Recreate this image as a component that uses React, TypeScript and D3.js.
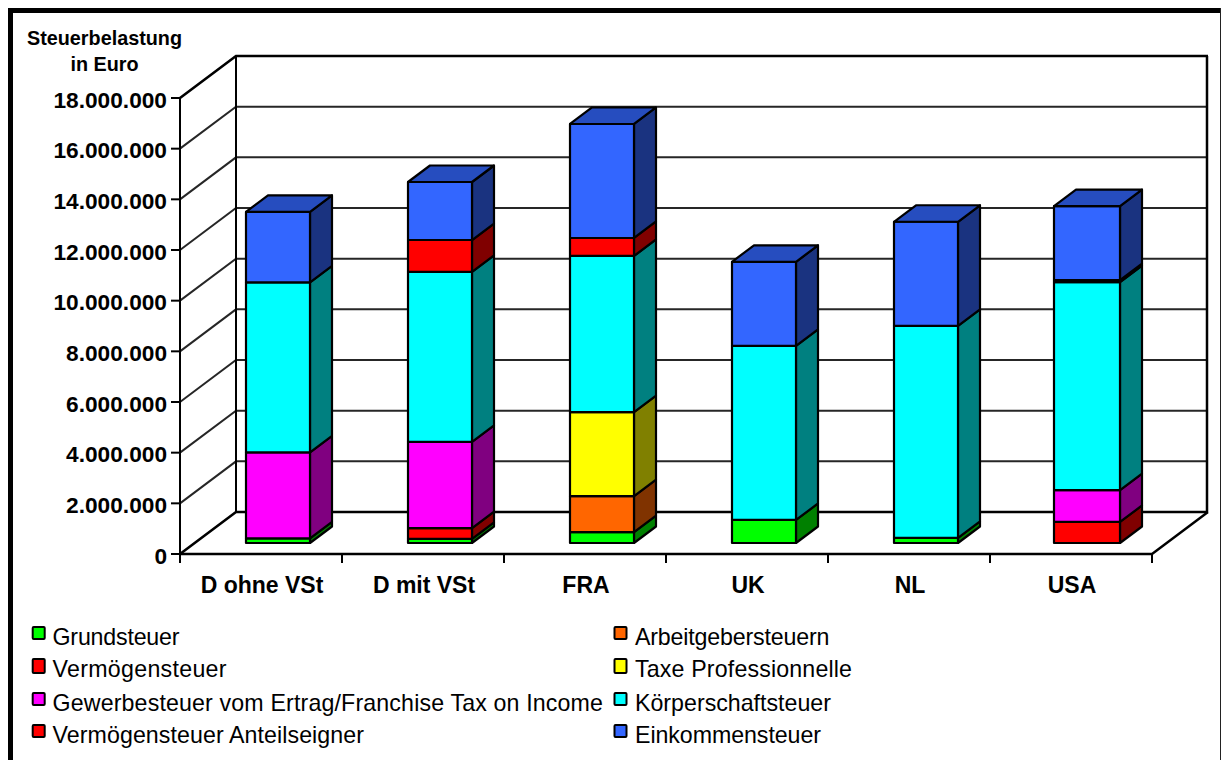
import React from "react";
import * as d3 from "d3";

const categories = ["D ohne VSt", "D mit VSt", "FRA", "UK", "NL", "USA"];
const yTicks = [0, 2, 4, 6, 8, 10, 12, 14, 16, 18].map((d) => d * 1e6);
const tickLabels = ["0", "2.000.000", "4.000.000", "6.000.000", "8.000.000", "10.000.000", "12.000.000", "14.000.000", "16.000.000", "18.000.000"];

const grundsteuer = [0.18, 0.16, 0.43, 0.91, 0.2, 0];
const arbeitgeber = [0, 0, 1.42, 0, 0, 0];
const vermoegen = [0, 0.43, 0, 0, 0, 0.83];
const taxePro = [0, 0, 3.32, 0, 0, 0];
const gewerbe = [3.4, 3.4, 0, 0, 0, 1.26];
const koerperschaft = [6.71, 6.71, 6.16, 6.87, 8.37, 8.21];
const anteilseigner = [0, 1.26, 0.71, 0, 0, 0.08];
const einkommen = [2.78, 2.29, 4.5, 3.32, 4.11, 2.92];

const seriesNames = ["Grundsteuer", "Arbeitgebersteuern", "Vermögensteuer", "Taxe Professionnelle", "Gewerbesteuer vom Ertrag/Franchise Tax on Income", "Körperschaftsteuer", "Vermögensteuer Anteilseigner", "Einkommensteuer"];
const seriesValues = [grundsteuer, arbeitgeber, vermoegen, taxePro, gewerbe, koerperschaft, anteilseigner, einkommen];
const seriesColors = ["#00ff00", "#ff6600", "#ff0000", "#ffff00", "#ff00ff", "#00ffff", "#ff0000", "#3366ff"];
const legendTextWidths = [127, 194.5, 174, 217, 550.5, 196, 311.5, 186];

const FONT = '"Liberation Sans", Arial, sans-serif';
const DX = 56, DY = -42;
const y = d3.scaleLinear().domain([0, 18e6]).range([554, 98]);
const x = d3.scaleBand<string>().domain(categories).range([180, 1152]);
const legendY = d3.scaleOrdinal<number, number>().domain([0, 1, 2, 3]).range([645, 677, 711, 743]);
const line = d3.line();
const poly = (p: [number, number][]) => line(p)! + "Z";
const dark = (c: string, k: number) => {
  const r = d3.rgb(c);
  return d3.rgb(r.r * k, r.g * k, r.b * k).formatHex();
};

export default function App() {
  const bandW = x.bandwidth();
  const frontDx = 15, frontDy = -11, barDx = 22, barDy = -16.5;
  const bars = categories.map((c, i) => {
    const last = i === categories.length - 1;
    const barW = last ? 66 : 64;
    const x0 = x(c)! + (bandW - 64) / 2 + frontDx + 2 - (last ? 2 : 0);
    let acc = 0;
    const segs = seriesValues.map((vals, s) => {
      const v = vals[i] * 1e6;
      const a = y(acc) + frontDy;
      acc += v;
      const b = y(acc) + frontDy;
      return { v, a, b, s };
    }).filter((d) => d.v > 0);
    return { c, x0, barW, segs };
  });
  return (
    <svg width={1221} height={760} style={{ position: "absolute", left: 0, top: 0, background: "#fff" }} fontFamily={FONT}>
      <rect x={8} y={8} width={5} height={752} fill="#000" />
      <rect x={8} y={8} width={1213} height={5} fill="#000" />
      <rect x={1220} y={8} width={1} height={752} fill="#222" />

      {/* walls and grid */}
      {yTicks.map((t, i) => (
        <g key={t} fill="none" stroke="#000">
          <path d={line([[180, y(t)], [180 + DX, y(t) + DY], [1152 + DX, y(t) + DY]])!} strokeWidth={i === 0 || i === 9 ? 2.6 : 2} strokeOpacity={i === 0 || i === 9 ? 1 : 0.85} />
          <line x1={171} x2={180} y1={y(t)} y2={y(t)} strokeWidth={2} />
        </g>
      ))}
      <g stroke="#000" fill="none">
        <line x1={180} x2={180} y1={y(18e6)} y2={y(0)} strokeWidth={2} />
        <line x1={236} x2={236} y1={y(18e6) + DY} y2={y(0) + DY} strokeWidth={2} />
        <line x1={1207} x2={1207} y1={y(18e6) + DY} y2={y(0) + DY} strokeWidth={2.5} />
        <path d={line([[180, y(0)], [1152, y(0)], [1152 + DX, y(0) + DY]])!} strokeWidth={2.4} />
        {[...categories.map((c) => x(c)!), 1152].map((v) => (
          <line key={v} x1={v} x2={v} y1={y(0)} y2={y(0) + 9} strokeWidth={2} />
        ))}
      </g>

      {/* bars */}
      {bars.map((b) => (
        <g key={b.c} stroke="#000" strokeWidth={2.2} strokeLinejoin="round">
          {b.segs.map((g) => (
            <g key={g.s}>
              <path d={poly([[b.x0 + b.barW, g.a], [b.x0 + b.barW + barDx, g.a + barDy], [b.x0 + b.barW + barDx, g.b + barDy], [b.x0 + b.barW, g.b]])} fill={dark(seriesColors[g.s], 0.5)} />
              <rect x={b.x0} y={g.b} width={b.barW} height={g.a - g.b} fill={seriesColors[g.s]} />
            </g>
          ))}
          {(() => {
            const top = b.segs[b.segs.length - 1];
            return (
              <path d={poly([[b.x0, top.b], [b.x0 + barDx, top.b + barDy], [b.x0 + b.barW + barDx, top.b + barDy], [b.x0 + b.barW, top.b]])} fill={dark(seriesColors[top.s], 0.75)} />
            );
          })()}
        </g>
      ))}

      {/* labels */}
      <g fontWeight="bold" fill="#000">
        <text x={104.5} y={45} textAnchor="middle" fontSize={19.8}>Steuerbelastung</text>
        <text x={104.5} y={71} textAnchor="middle" fontSize={19.8}>in Euro</text>
        {yTicks.map((t, i) => (
          <text key={t} x={167} y={y(t) + 9.6} textAnchor="end" fontSize={22.7}>{tickLabels[i]}</text>
        ))}
        {categories.map((c) => (
          <text key={c} x={x(c)! + bandW / 2 + 1} y={593} textAnchor="middle" fontSize={23}>{c}</text>
        ))}
      </g>

      {/* legend */}
      {seriesNames.map((name, s) => {
        const col = s % 2, row = Math.floor(s / 2);
        const lx = col === 0 ? 32.7 : 614.5;
        const ly = legendY(row);
        return (
          <g key={s}>
            <rect x={lx} y={ly - 18} rx={1} width={12} height={row === 1 ? 14 : 12} fill={seriesColors[s]} stroke="#000" strokeWidth={2} />
            <text x={col === 0 ? 52.5 : 635} y={ly} fontSize={23.2} fill="#000" textLength={legendTextWidths[s]} lengthAdjust="spacing">{name}</text>
          </g>
        );
      })}
    </svg>
  );
}
